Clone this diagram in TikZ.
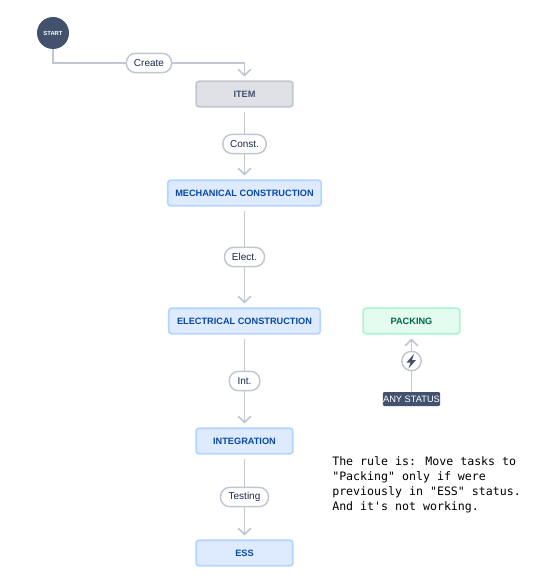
\documentclass[tikz,border=0pt]{standalone}
\usepackage{fontspec}
\setmainfont{Liberation Sans}
\newfontfamily\notefont{DejaVu Sans Mono}
\usetikzlibrary{arrows.meta}
\definecolor{navy}{HTML}{42526E}
\definecolor{edgegrey}{HTML}{C1C7D0}
\definecolor{itemfill}{HTML}{DFE1E6}
\definecolor{bluefill}{HTML}{DEEBFF}
\definecolor{blueline}{HTML}{B3D4FF}
\definecolor{bluetext}{HTML}{0747A6}
\definecolor{greenfill}{HTML}{E3FCEF}
\definecolor{greenline}{HTML}{ABF5D1}
\definecolor{greentext}{HTML}{006644}
\definecolor{labeltext}{HTML}{172B4D}
\begin{document}
\begin{tikzpicture}[x=0.75pt, y=-0.75pt,
    box/.style={rectangle, rounded corners=2pt, line width=1.3pt, inner sep=0pt, minimum height=19pt,
      font=\bfseries\fontsize{6.9}{8}\selectfont},
    greybox/.style={box, draw=edgegrey, fill=itemfill, text=navy, minimum width=72.5pt},
    bluebox/.style={box, draw=blueline, fill=bluefill, text=bluetext},
    greenbox/.style={box, draw=greenline, fill=greenfill, text=greentext, minimum width=72.5pt},
    edgelabel/.style={rectangle, rounded corners=7pt, draw=edgegrey, fill=white, line width=1.1pt, text=labeltext,
      inner sep=0pt, minimum height=14.5pt, font=\fontsize{7.5}{9}\selectfont},
    edge/.style={draw=edgegrey, line width=1.25pt},
    arrowedge/.style={edge, -{Straight Barb[length=4.5pt, width=9.5pt, line width=1.25pt]}, shorten >=3pt}]
    \useasboundingbox (0,0) rectangle (544,575);
    % Start circle
    \node[circle, fill=navy, text=white, inner sep=0pt, minimum size=24pt,
      font=\bfseries\fontsize{4.4}{5}\selectfont] (start) at (53,33) {START};
    % Main column of statuses
    \node[greybox] (item) at (244.5,94) {ITEM};
    \node[bluebox, minimum width=115pt] (mech) at (244.5,193) {MECHANICAL CONSTRUCTION};
    \node[bluebox, minimum width=113.5pt] (elec) at (244.5,321) {ELECTRICAL CONSTRUCTION};
    \node[bluebox, minimum width=72.5pt] (integ) at (244.5,441) {INTEGRATION};
    \node[bluebox, minimum width=72.5pt] (ess) at (244.5,553) {ESS};
    % Labels on the transitions
    \node[edgelabel, minimum width=34pt] (create) at (149,63) {Create};
    \node[edgelabel, minimum width=32.5pt] (const) at (244.5,144) {Const.};
    \node[edgelabel, minimum width=30pt] (elect) at (244.5,257) {Elect.};
    \node[edgelabel, minimum width=23pt] (int) at (244.5,381) {Int.};
    \node[edgelabel, minimum width=36pt] (testing) at (244.5,497) {Testing};
    % Global transition on the right
    \node[greenbox] (packing) at (411.5,321) {PACKING};
    \node[rectangle, rounded corners=1pt, fill=navy, text=white, inner sep=0pt, minimum width=43pt, minimum height=10.5pt,
      font=\fontsize{6.95}{8}\selectfont] (any) at (411.5,399) {ANY STATUS};
    \node[circle, draw=edgegrey, fill=white, line width=1.1pt, inner sep=0pt, minimum size=14.5pt] (bolt) at (411.5,361) {};
    % Note
    \node[anchor=north west, align=left, inner sep=0pt, font=\notefont\fontsize{8.7}{11.25}\selectfont] (note) at (332,456)
      {The rule is: Move tasks to\\"Packing" only if were\\previously in "ESS" status.\\And it's not working.};
    % Connectors
    \draw[edge] (start) |- (create);
    \draw[arrowedge] (create) -| (item);
    \draw[edge, shorten <=3.5pt] (item) -- (const);
    \draw[arrowedge] (const) -- (mech);
    \draw[edge, shorten <=3.5pt] (mech) -- (elect);
    \draw[arrowedge] (elect) -- (elec);
    \draw[edge, shorten <=3.5pt] (elec) -- (int);
    \draw[arrowedge] (int) -- (integ);
    \draw[edge, shorten <=3.5pt] (integ) -- (testing);
    \draw[arrowedge] (testing) -- (ess);
    \draw[edge] (any) -- (bolt);
    \draw[arrowedge] (bolt) -- (packing);
    % Bolt icon
    \fill[navy] (414,354) -- (406.5,362.5) -- (410.5,362.5) -- (408.5,368.5) -- (416,360) -- (412,360) -- cycle;
  \end{tikzpicture}
\end{document}
